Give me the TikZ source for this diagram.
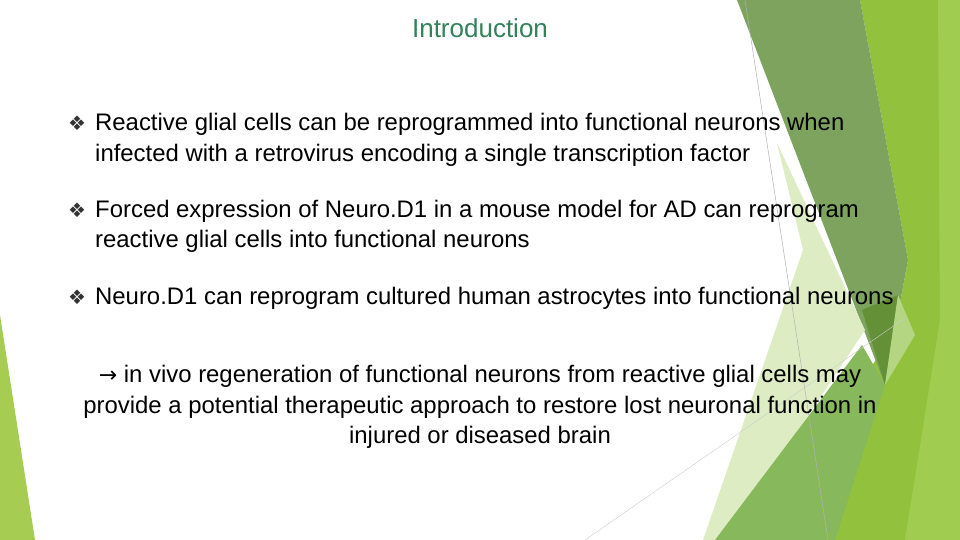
\documentclass[tikz,border=0pt]{standalone}
\usepackage{fontspec}
\setmainfont{Liberation Sans}
\newfontfamily\djv{DejaVu Sans}
\begin{document}
\begin{tikzpicture}[x=1pt,y=-1pt,
  txt/.style={anchor=base west,inner sep=0pt,font=\fontsize{23.9}{28}\selectfont},
  bul/.style={anchor=base west,inner sep=0pt,font=\djv\fontsize{20}{24}\selectfont,text=black!80}]
\useasboundingbox (0,0) rectangle (960,540);
\fill[white] (0,0) rectangle (960,540);
% decorative shapes
\fill[color={rgb,255:red,166;green,204;blue,82}] (0,315) -- (35,540) -- (0,540) -- cycle;
\fill[color={rgb,255:red,146;green,193;blue,62}] (860,0) -- (960,0) -- (960,540) -- (760,540) -- (895,330) -- (908,260) -- cycle;
\fill[color={rgb,255:red,160;green,204;blue,80}] (938,0) -- (960,0) -- (960,540) -- (905,540) -- (940,320) -- cycle;
\fill[color={rgb,255:red,125;green,163;blue,94}] (737,0) -- (860,0) -- (908,260) -- (895,330) -- (885,385) -- cycle;
\fill[color={rgb,255:red,100;green,145;blue,55}] (862,310) -- (898,295) -- (885,385) -- cycle;
\fill[color={rgb,255:red,222;green,236;blue,196}] (777,143) -- (803,250) -- (703,540) -- (725,540) -- (865,330) -- cycle;
\fill[color={rgb,255:red,136;green,184;blue,92}] (715,540) -- (862,345) -- (885,385) -- (835,540) -- cycle;
\fill[color={rgb,255:red,180;green,214;blue,130}] (898,295) -- (915,335) -- (885,385) -- cycle;
\draw[gray!60,line width=0.5] (745,0) -- (828,540);
\draw[gray!40,line width=0.4] (585,540) -- (905,318);
% text
\node[anchor=center,inner sep=0pt,font=\fontsize{26}{30}\selectfont,text={rgb,255:red,50;green,130;blue,90}] (title) at (480,28) {Introduction};
\node[bul] (b1) at (68,131) {❖};
\node[txt] (t1a) at (95,131) {Reactive glial cells can be reprogrammed into functional neurons when};
\node[txt] (t1b) at (95,161) {infected with a retrovirus encoding a single transcription factor};
\node[bul] (b2) at (68,217) {❖};
\node[txt] (t2a) at (95,217) {Forced expression of Neuro.D1 in a mouse model for AD can reprogram};
\node[txt] (t2b) at (95,247) {reactive glial cells into functional neurons};
\node[bul] (b3) at (68,304) {❖};
\node[txt] (t3) at (95,304) {Neuro.D1 can reprogram cultured human astrocytes into functional neurons};
\node[anchor=base,inner sep=0pt,font=\fontsize{23.9}{28}\selectfont] (c1) at (480,382) {{\djv\fontsize{22}{24}\selectfont →} in vivo regeneration of functional neurons from reactive glial cells may};
\node[anchor=base,inner sep=0pt,font=\fontsize{23.9}{28}\selectfont] (c2) at (480,413) {provide a potential therapeutic approach to restore lost neuronal function in};
\node[anchor=base,inner sep=0pt,font=\fontsize{23.9}{28}\selectfont] (c3) at (480,443) {injured or diseased brain};
\end{tikzpicture}
\end{document}
